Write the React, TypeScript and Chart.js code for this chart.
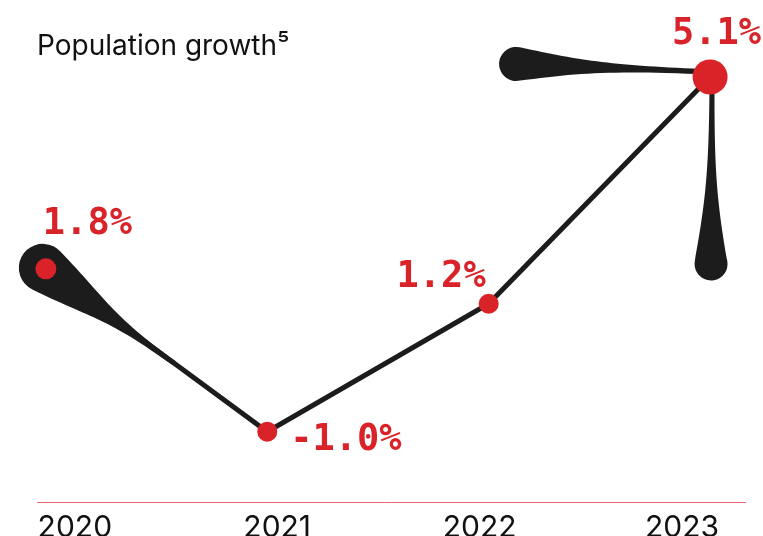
import React, { useEffect, useRef } from "react";
import { Chart, registerables } from "chart.js";

Chart.register(...registerables);

// ---- data ----
const years = [2020, 2021, 2022, 2023];
const yearLabels = ["2020", "2021", "2022", "2023"];
const growth = [1.8, -1.0, 1.2, 5.1];
const valueLabels = ["1.8%", "-1.0%", "1.2%", "5.1%"];
const titleText = "Population growth\u2075";

// ---- styles ----
const INK = "#1c1c1c";
const RED = "#da2329";
const AXIS_RED = "#e9686d";
const pointRadii = [10.5, 10, 10, 17.5];
// label placement relative to each point (pixels)
const labelPlacement = [
  { dx: -3, dy: -35, align: "left" },
  { dx: 23, dy: 18, align: "left" },
  { dx: -3, dy: -17, align: "right" },
  { dx: 51, dy: -33, align: "right" },
];

function teardrop(
  ctx: CanvasRenderingContext2D,
  cx: number,
  cy: number,
  r: number,
  tx: number,
  ty: number,
  w: number,
  spread: number
) {
  const dx = tx - cx;
  const dy = ty - cy;
  const L = Math.hypot(dx, dy);
  const ux = dx / L;
  const uy = dy / L;
  const nx = -uy;
  const ny = ux;
  const P = (a: number, b: number) => [cx + a * ux + b * nx, cy + a * uy + b * ny];
  const theta = Math.atan2(uy, ux);
  const phi = (80 * Math.PI) / 180;
  const k = L * spread;
  const m = L * 0.5;
  const sx = r * Math.cos(phi);
  const sy = r * Math.sin(phi);
  ctx.beginPath();
  let p = P(L, w);
  ctx.moveTo(p[0], p[1]);
  let c1 = P(L - m, w);
  let c2 = P(sx + k * Math.sin(phi), sy - k * Math.cos(phi));
  p = P(sx, sy);
  ctx.bezierCurveTo(c1[0], c1[1], c2[0], c2[1], p[0], p[1]);
  ctx.arc(cx, cy, r, theta + phi, theta + 2 * Math.PI - phi, false);
  c1 = P(sx + k * Math.sin(phi), -sy + k * Math.cos(phi));
  c2 = P(L - m, -w);
  p = P(L, -w);
  ctx.bezierCurveTo(c1[0], c1[1], c2[0], c2[1], p[0], p[1]);
  ctx.closePath();
  ctx.fill();
}

const decorPlugin = {
  id: "decor",
  beforeDatasetsDraw(chart: any) {
    const pts = chart.getDatasetMeta(0).data;
    if (!pts || pts.length < 4) return;
    const ctx: CanvasRenderingContext2D = chart.ctx;
    ctx.save();
    ctx.fillStyle = INK;
    const p0 = pts[0];
    const p1 = pts[1];
    const p3 = pts[3];
    const f = 0.58;
    teardrop(ctx, p0.x - 3, p0.y - 1, 24, p0.x + (p1.x - p0.x) * f, p0.y + (p1.y - p0.y) * f, 2.5, 0.42);
    teardrop(ctx, p3.x - 194, p3.y - 13, 17, p3.x, p3.y - 5, 2.5, 0.33);
    teardrop(ctx, p3.x + 1, p3.y + 187, 16.5, p3.x + 2, p3.y, 2.5, 0.33);
    ctx.restore();
  },
  afterDatasetsDraw(chart: any) {
    const pts = chart.getDatasetMeta(0).data;
    const ctx: CanvasRenderingContext2D = chart.ctx;
    ctx.save();
    ctx.fillStyle = RED;
    ctx.font = "bold 37px 'DejaVu Sans Mono', monospace";
    ctx.textBaseline = "alphabetic";
    pts.forEach((pt: any, i: number) => {
      const pl = labelPlacement[i];
      ctx.textAlign = pl.align as CanvasTextAlign;
      ctx.fillText(valueLabels[i], pt.x + pl.dx, pt.y + pl.dy);
    });
    ctx.restore();
  },
};

export default function App() {
  const ref = useRef<HTMLCanvasElement | null>(null);

  useEffect(() => {
    document.body.style.margin = "0";
    document.body.style.overflow = "hidden";
    if (!ref.current) return;
    const chart = new Chart(ref.current, {
      type: "line",
      data: {
        datasets: [
          {
            data: years.map((y, i) => ({ x: y, y: growth[i] })),
            borderColor: INK,
            borderWidth: 5,
            pointBackgroundColor: RED,
            pointBorderWidth: 0,
            pointRadius: pointRadii,
            pointHoverRadius: pointRadii,
            tension: 0,
            clip: false as any,
          },
        ],
      },
      options: {
        animation: false,
        responsive: false,
        maintainAspectRatio: false,
        layout: { padding: { left: 37, right: 13, top: 0, bottom: 0 } },
        plugins: {
          legend: { display: false },
          tooltip: { enabled: false },
          title: {
            display: true,
            text: titleText,
            align: "start",
            color: "#111111",
            font: { family: "Inter, 'Liberation Sans', sans-serif", size: 28, weight: "normal" as any },
            padding: { top: 30, bottom: 0 },
          },
        },
        scales: {
          x: {
            type: "linear",
            display: false,
            min: 2019.96,
            max: 2023.16,
          },
          xt: {
            type: "linear",
            position: "bottom",
            min: 2019.813,
            max: 2023.314,
            grid: { display: false, drawTicks: false },
            border: { display: true, color: AXIS_RED, width: 1 },
            afterBuildTicks: (scale: any) => {
              scale.ticks = years.map((v) => ({ value: v }));
            },
            afterFit: (scale: any) => {
              scale.height = 34;
            },
            ticks: {
              padding: 11,
              maxRotation: 0,
              autoSkip: false,
              color: "#111111",
              font: { family: "Inter, 'Liberation Sans', sans-serif", size: 30, lineHeight: 1 },
              callback: (_v: any, i: number) => yearLabels[i],
            },
          },
          y: {
            type: "linear",
            display: false,
            min: -2.21,
            max: 5.33,
          },
        },
      },
      plugins: [decorPlugin],
    });
    return () => chart.destroy();
  }, []);

  return (
    <div style={{ width: 763, height: 536, position: "relative", background: "#ffffff" }}>
      <canvas ref={ref} width={763} height={536} style={{ display: "block" }} />
    </div>
  );
}
